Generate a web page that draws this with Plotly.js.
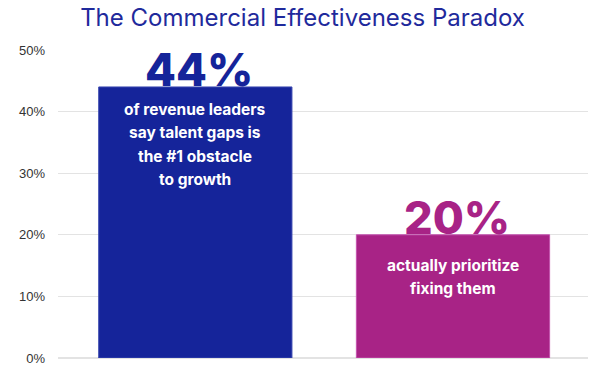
<!DOCTYPE html>
<html>
<head>
<meta charset="utf-8">
<script src="https://cdn.plot.ly/plotly-3.0.1.min.js"></script>
<style>html,body{margin:0;padding:0;background:#fff;}#chart{width:605px;height:373px;}</style>
</head>
<body>
<div id="chart"></div>
<script>
const categories = ["Talent gaps are the #1 obstacle", "Actually prioritize fixing them"];
const values = [0.44, 0.20];
const bigLabels = ["44%", "20%"];
const descriptionLines = [
  ["of revenue leaders", "say talent gaps is", "the #1 obstacle", "to growth"],
  ["actually prioritize", "fixing them"]
];
const barColors = ["#15249a", "#a82386"];
const borderColors = ["#3a48b0", "#c452ae"];
const tickValues = [0, 0.1, 0.2, 0.3, 0.4, 0.5];
const tickLabels = ["0%", "10%", "20%", "30%", "40%", "50%"];
const chartTitle = "The Commercial Effectiveness Paradox";

// style: offset of first text line below bar top, and gap between lines (px)
const firstLineOffset = [22.5, 30.5];
const lineGap = 23.3;

const idx = categories.map((c, i) => i);

const trace = {
  type: "bar",
  x: idx,
  y: values,
  width: 0.75,
  marker: { color: barColors, line: { color: borderColors, width: 1 } },
  hoverinfo: "skip"
};

const annotations = [];
idx.forEach(i => {
  annotations.push({
    x: i, y: values[i], xref: "x", yref: "y",
    text: bigLabels[i],
    showarrow: false, xanchor: "center", yanchor: "bottom", yshift: -12, xshift: 4,
    font: { family: "Inter", size: 45, weight: 800, color: barColors[i] }
  });
  descriptionLines[i].forEach((line, j) => {
    annotations.push({
      x: i, y: values[i], xref: "x", yref: "y",
      text: line,
      showarrow: false, xanchor: "center", yanchor: "middle",
      yshift: -(firstLineOffset[i] + j * lineGap),
      font: { family: "Inter", size: 15.5, weight: 700, color: "#ffffff" }
    });
  });
});

const layout = {
  width: 605, height: 373,
  margin: { l: 58, r: 17, t: 50, b: 15, pad: 0 },
  paper_bgcolor: "#ffffff", plot_bgcolor: "#ffffff",
  showlegend: false,
  title: {
    text: chartTitle,
    font: { family: "Inter", size: 24, color: "#1f2a9c" },
    x: 0.5, xanchor: "center", y: 0.975, yanchor: "top"
  },
  xaxis: {
    range: [-0.533, 1.524],
    showticklabels: false, showgrid: false, zeroline: false, ticks: "",
    fixedrange: true
  },
  yaxis: {
    range: [0, 0.5],
    tickvals: tickValues, ticktext: tickLabels,
    showgrid: true, gridcolor: "#e3e3e3", gridwidth: 1,
    zeroline: true, zerolinecolor: "#e3e3e3", zerolinewidth: 2,
    ticks: "", ticklabelstandoff: 12,
    tickfont: { family: "Liberation Sans, Arial", size: 13, color: "#333333" },
    fixedrange: true
  },
  annotations: annotations
};

Plotly.newPlot("chart", [trace], layout, { displayModeBar: false, staticPlot: true });
</script>
</body>
</html>
